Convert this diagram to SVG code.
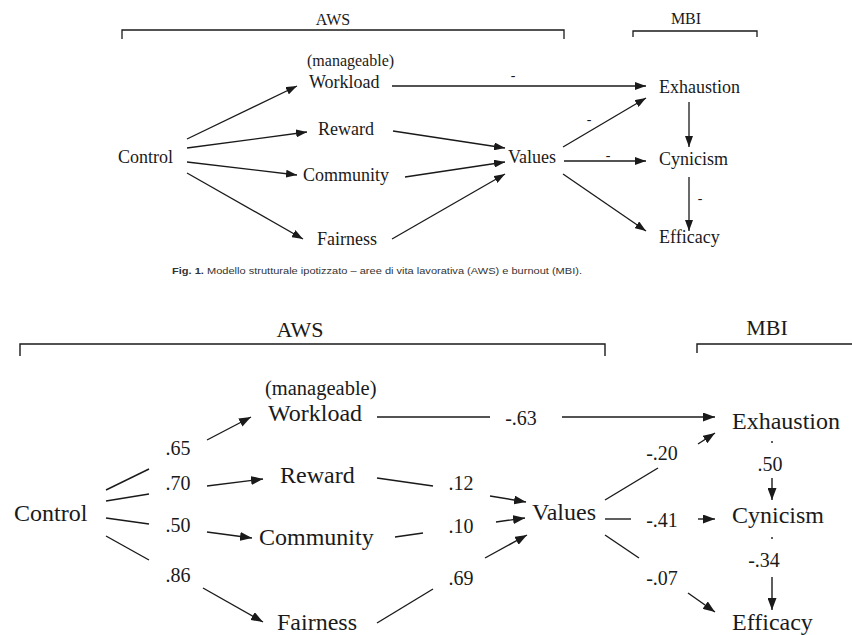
<svg xmlns="http://www.w3.org/2000/svg" width="852" height="635" viewBox="0 0 852 635">
<defs>
<marker id="ah" markerUnits="userSpaceOnUse" markerWidth="11" markerHeight="8" refX="11" refY="4" orient="auto"><path d="M0,0 L11,4 L0,8 z" fill="#1a1a1a"/></marker>
<marker id="ah2" markerUnits="userSpaceOnUse" markerWidth="12" markerHeight="9" refX="12" refY="4.5" orient="auto"><path d="M0,0 L12,4.5 L0,9 z" fill="#1a1a1a"/></marker>
</defs>
<style>
text{font-family:"Liberation Serif","Times New Roman",serif;fill:#1a1a1a}
.n1{font-size:18px}
.s1{font-size:16px}
.n2{font-size:24px}
.s2{font-size:20.5px}
.h2{font-size:22px}
.v{font-size:20px;text-anchor:middle}
.d{font-size:14px;text-anchor:middle}
.m{text-anchor:middle}
line,polyline{stroke:#1a1a1a;fill:none}
.c1 line{stroke-width:1.3}
.c2 line{stroke-width:1.4}
.a1{marker-end:url(#ah)}
.a2{marker-end:url(#ah2)}
.cap{font-family:"Liberation Sans",Arial,sans-serif;font-size:9px;fill:#333}
</style>
<rect width="852" height="635" fill="#fff"/>

<!-- Figure 1 (top) -->
<g id="top-brackets">
<polyline points="122,39 122,30 564,30 564,39" stroke-width="1.3"/>
<text class="s1 m" x="333" y="25">AWS</text>
<polyline points="633,37 633,31 757,31 757,37" stroke-width="1.3"/>
<text class="s1 m" x="686" y="24">MBI</text>
</g>
<g id="t-control"><text class="n1" x="118" y="163">Control</text></g>
<g id="t-workload"><text class="s1" x="307" y="66">(manageable)</text><text class="n1" x="309" y="88">Workload</text></g>
<g id="t-reward"><text class="n1" x="318" y="135">Reward</text></g>
<g id="t-community"><text class="n1" x="303" y="181">Community</text></g>
<g id="t-fairness"><text class="n1" x="317" y="245">Fairness</text></g>
<g id="t-values"><text class="n1" x="508" y="163">Values</text></g>
<g id="t-exhaustion"><text class="n1" x="659" y="93">Exhaustion</text></g>
<g id="t-cynicism"><text class="n1" x="659" y="165">Cynicism</text></g>
<g id="t-efficacy"><text class="n1" x="659" y="243">Efficacy</text></g>
<g id="top-connectors" class="c1">
<line class="a1" x1="187" y1="139" x2="297" y2="86"/>
<line class="a1" x1="187" y1="148" x2="307" y2="132"/>
<line class="a1" x1="187" y1="162" x2="297" y2="175"/>
<line class="a1" x1="187" y1="173" x2="303" y2="239"/>
<line class="a1" x1="392" y1="86" x2="646" y2="86"/>
<line class="a1" x1="393" y1="131" x2="505" y2="148"/>
<line class="a1" x1="405" y1="177" x2="505" y2="162"/>
<line class="a1" x1="392" y1="239" x2="505" y2="174"/>
<line class="a1" x1="563" y1="147" x2="646" y2="98"/>
<line class="a1" x1="564" y1="161" x2="646" y2="161"/>
<line class="a1" x1="563" y1="174" x2="646" y2="231"/>
<line class="a1" x1="689" y1="102" x2="689" y2="147"/>
<line class="a1" x1="689" y1="177" x2="689" y2="231"/>
<text class="d" x="513" y="80">-</text>
<text class="d" x="589" y="124">-</text>
<text class="d" x="608" y="160">-</text>
<text class="d" x="700" y="203">-</text>
</g>
<text class="cap" x="172" y="274" textLength="410" lengthAdjust="spacingAndGlyphs"><tspan font-weight="bold">Fig. 1.</tspan> Modello strutturale ipotizzato – aree di vita lavorativa (AWS) e burnout (MBI).</text>

<!-- Figure 2 (bottom) -->
<g id="bottom-brackets">
<polyline points="20,356 20,344 605,344 605,356" stroke-width="1.4"/>
<text class="h2 m" x="300" y="337">AWS</text>
<polyline points="697,353 697,344 852,344" stroke-width="1.4"/>
<text class="h2 m" x="767" y="335">MBI</text>
</g>
<g id="b-control"><text class="n2" x="14" y="521">Control</text></g>
<g id="b-workload"><text class="s2" x="265" y="395">(manageable)</text><text class="n2" x="268" y="421">Workload</text></g>
<g id="b-reward"><text class="n2" x="280" y="483">Reward</text></g>
<g id="b-community"><text class="n2" x="259" y="545">Community</text></g>
<g id="b-fairness"><text class="n2" x="277" y="630">Fairness</text></g>
<g id="b-values"><text class="n2" x="532" y="520">Values</text></g>
<g id="b-exhaustion"><text class="n2" x="732" y="429">Exhaustion</text></g>
<g id="b-cynicism"><text class="n2" x="732" y="523">Cynicism</text></g>
<g id="b-efficacy"><text class="n2" x="732" y="630">Efficacy</text></g>
<g id="bottom-connectors" class="c2">
<line x1="106" y1="490" x2="149" y2="469"/>
<line x1="106" y1="501" x2="149" y2="494"/>
<line x1="106" y1="518" x2="149" y2="524"/>
<line x1="106" y1="536" x2="149" y2="560"/>
<text class="v" x="178" y="455">.65</text>
<text class="v" x="178" y="490">.70</text>
<text class="v" x="178" y="532">.50</text>
<text class="v" x="178" y="582">.86</text>
<line class="a2" x1="207" y1="440" x2="251" y2="417"/>
<line class="a2" x1="207" y1="486" x2="263" y2="479"/>
<line class="a2" x1="207" y1="532" x2="252" y2="538"/>
<line class="a2" x1="203" y1="588" x2="263" y2="622"/>

<line x1="377" y1="417" x2="490" y2="417"/>
<text class="v" x="521" y="425">-.63</text>
<line class="a2" x1="562" y1="417" x2="715" y2="417"/>

<line x1="377" y1="478" x2="433" y2="486"/>
<text class="v" x="461" y="490">.12</text>
<line class="a2" x1="490" y1="496" x2="526" y2="502"/>
<line x1="395" y1="537" x2="423" y2="533"/>
<text class="v" x="461" y="533">.10</text>
<line class="a2" x1="496" y1="522" x2="525" y2="518"/>
<line x1="377" y1="623" x2="433" y2="589"/>
<text class="v" x="461" y="585">.69</text>
<line class="a2" x1="485" y1="558" x2="527" y2="535"/>

<line x1="605" y1="500" x2="658" y2="468"/>
<text class="v" x="662" y="460">-.20</text>
<line class="a2" x1="698" y1="444" x2="715" y2="433"/>
<line x1="605" y1="519" x2="631" y2="519"/>
<text class="v" x="662" y="527">-.41</text>
<line class="a2" x1="698" y1="519" x2="715" y2="519"/>
<line x1="605" y1="535" x2="639" y2="558"/>
<text class="v" x="662" y="585">-.07</text>
<line class="a2" x1="688" y1="593" x2="715" y2="612"/>

<line x1="772" y1="441" x2="772" y2="443"/>
<text class="v" x="770" y="471">.50</text>
<line class="a2" x1="772" y1="478" x2="772" y2="500"/>
<line x1="772" y1="537" x2="772" y2="539"/>
<text class="v" x="764" y="567">-.34</text>
<line class="a2" x1="772" y1="577" x2="772" y2="610"/>
</g>
</svg>
